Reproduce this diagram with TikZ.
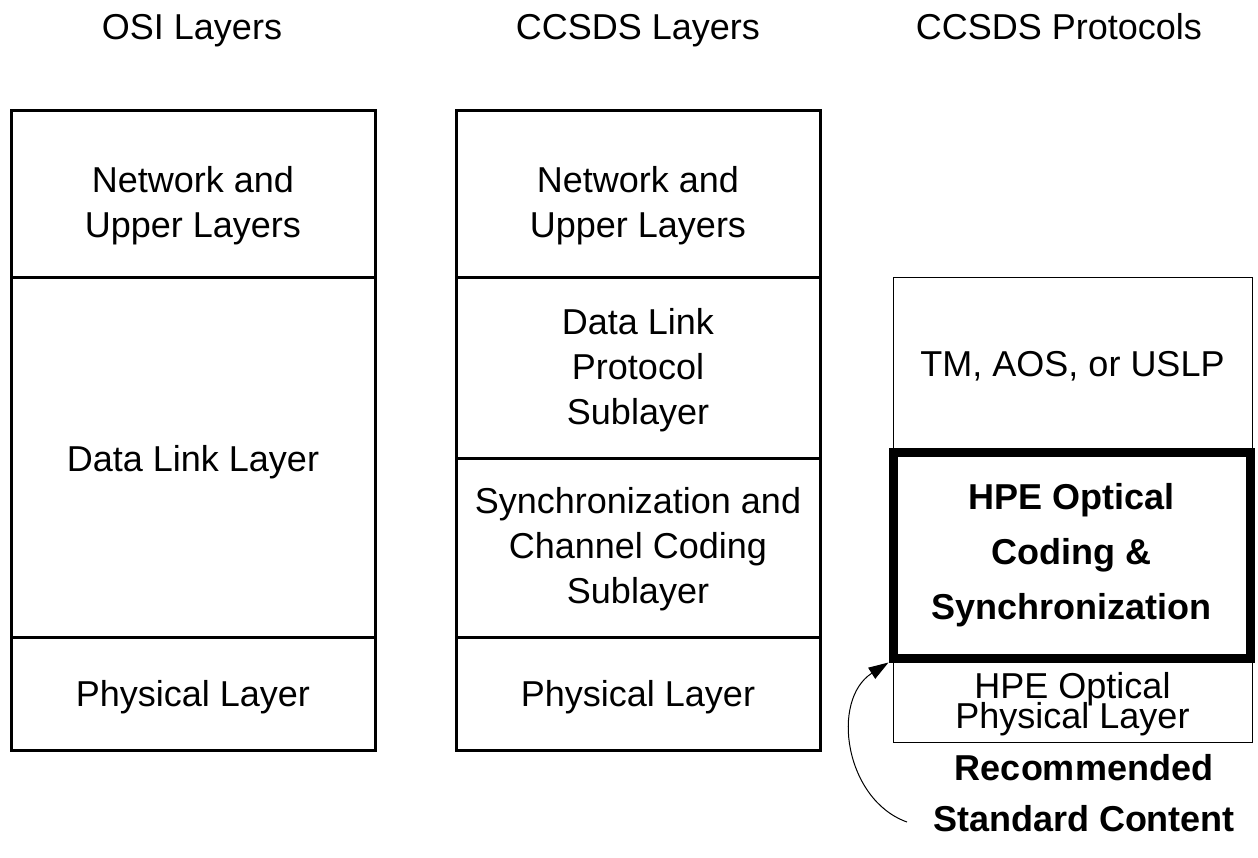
\documentclass[tikz,border=0pt]{standalone}
\usepackage{fontspec}
\setmainfont{Liberation Sans}
\usetikzlibrary{arrows.meta}
\newcommand{\tightlines}{\lineskiplimit=-50pt\relax\lineskip=0pt\relax}
\begin{document}
\begin{tikzpicture}[x=1pt,y=-1pt,
  cell/.style={draw, line width=3pt, inner sep=0pt},
  thin/.style={draw, line width=1pt, inner sep=0pt},
  boldcell/.style={draw, line width=9pt, inner sep=0pt, align=center,
    font=\fontsize{36}{55}\selectfont\bfseries},
  txt/.style={inner sep=0pt, align=center, font=\fontsize{36}{45}\selectfont},
  tighttxt/.style={inner sep=0pt, align=center, font=\fontsize{36}{30}\selectfont\tightlines},
  head/.style={font=\fontsize{36}{44}\selectfont, inner sep=0pt, anchor=base},
  note/.style={font=\fontsize{36}{51}\selectfont\bfseries, align=center, inner sep=0pt}
]
\useasboundingbox (0,0) rectangle (1258,857);
% headers
\node[head] (h1) at (192,39) {OSI Layers};
\node[head] (h2) at (638,39) {CCSDS Layers};
\node[head] (h3) at (1059,39) {CCSDS Protocols};
% OSI column
\node[cell, minimum width=364pt, minimum height=167pt] (o1) at (193,193.5) {};
\node[cell, minimum width=364pt, minimum height=360pt] (o2) at (193,457) {};
\node[cell, minimum width=364pt, minimum height=113pt] (o3) at (193,693.5) {};
\node[txt] (o1t) at ([yshift=-12pt]o1.center) {Network and\\Upper Layers};
\node[txt] (o2t) at ([yshift=-5pt]o2.center) {Data Link Layer};
\node[txt] (o3t) at ([yshift=-4pt]o3.center) {Physical Layer};
% CCSDS column
\node[cell, minimum width=364pt, minimum height=167pt] (c1) at (638,193.5) {};
\node[cell, minimum width=364pt, minimum height=181pt] (c2) at (638,367.5) {};
\node[cell, minimum width=364pt, minimum height=179pt] (c3) at (638,547.5) {};
\node[cell, minimum width=364pt, minimum height=113pt] (c4) at (638,693.5) {};
\node[txt] (c1t) at ([yshift=-12pt]c1.center) {Network and\\Upper Layers};
\node[txt] (c2t) at ([yshift=-3pt]c2.center) {Data Link\\Protocol\\Sublayer};
\node[txt] (c3t) at ([yshift=-2pt]c3.center) {Synchronization and\\Channel Coding\\Sublayer};
\node[txt] (c4t) at ([yshift=-4pt]c4.center) {Physical Layer};
% Protocols column
\node[thin, minimum width=359pt, minimum height=175pt] (p1) at (1072.5,364.5) {};
\node[thin, minimum width=359pt, minimum height=84pt] (p3) at (1072.5,700) {};
\node[txt] (p1t) at ([yshift=-2pt]p1.center) {TM, AOS, or USLP};
\node[tighttxt] (p3t) at ([yshift=-4pt]p3.center) {HPE Optical\\Physical Layer};
\node[boldcell, minimum width=357pt, minimum height=206pt] (p2) at (1071.5,555) {HPE Optical\\Coding \&\\Synchronization};
% note and arrow
\node[note] (rec) at (1084,793) {Recommended\\Standard Content};
\coordinate (astart) at (907,822);
\draw[line width=1pt, -{Triangle[length=20pt,width=13pt]}] (astart) .. controls (845,800) and (830,700) .. (p2.south west);
\end{tikzpicture}
\end{document}
